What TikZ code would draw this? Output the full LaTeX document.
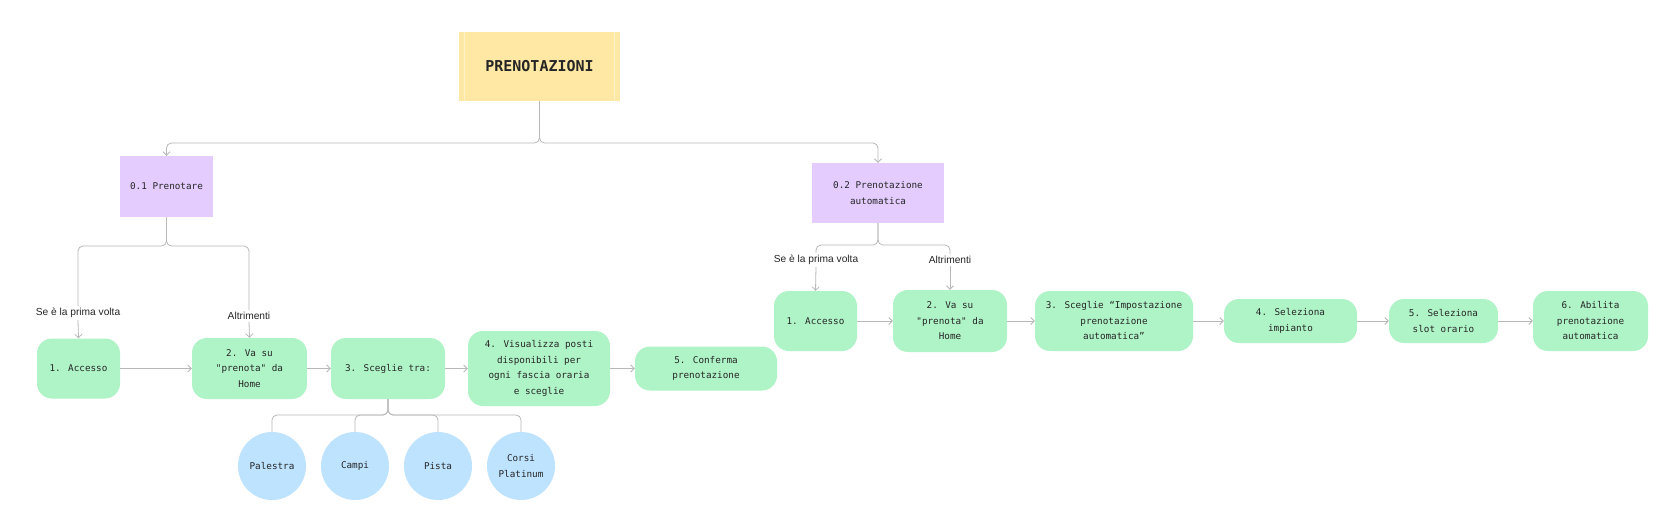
\documentclass[tikz,border=0pt]{standalone}
\usepackage{fontspec}
\usetikzlibrary{arrows.meta}
\newfontfamily\monof{DejaVu Sans Mono}
\newfontfamily\labf{Liberation Sans}
\definecolor{gr}{HTML}{AFF4C6}
\definecolor{pu}{HTML}{E4CCFF}
\definecolor{bl}{HTML}{BDE3FF}
\definecolor{ye}{HTML}{FFE8A3}
\definecolor{yel}{HTML}{FFF1C8}
\definecolor{ln}{HTML}{B8B8B8}
\definecolor{txt}{HTML}{262626}
\begin{document}
\begin{tikzpicture}[x=1pt,y=-1pt,
  box/.style={draw=none, inner sep=0pt, align=center, text=txt,
    font=\monof\fontsize{9.3pt}{15.5pt}\selectfont},
  grn/.style={fill=gr, rounded corners=15pt},
  pur/.style={box, fill=pu},
  circ/.style={box, circle, fill=bl, minimum size=68pt},
  lab/.style={inner sep=2pt, text=txt, font=\labf\fontsize{10.2pt}{12pt}\selectfont},
  conn/.style={draw=ln, line width=0.8pt, rounded corners=5pt},
  arr/.style={conn, -{Straight Barb[length=3.5pt,width=7pt]}}
]
\fill[white] (0,0) rectangle (1680,532);
\useasboundingbox (0,0) rectangle (1680,532);

% title
\node[box, fill=ye, minimum width=161pt, minimum height=69pt,
  font=\monof\bfseries\fontsize{15pt}{18pt}\selectfont] (top) at (539.5,66.5) {PRENOTAZIONI};
\draw[yel, line width=0.8pt] ([xshift=6pt]top.north west) -- ([xshift=6pt]top.south west);
\draw[yel, line width=0.8pt] ([xshift=-6pt]top.north east) -- ([xshift=-6pt]top.south east);

% sections
\node[pur, minimum width=93pt, minimum height=61pt] (p01) at (166.5,186.5) {0.1 Prenotare};
\node[pur, minimum width=132pt, minimum height=60pt] (p02) at (878,193) {0.2 Prenotazione\\automatica};

\coordinate (j0) at (539.5,143);
\draw[arr] (top.south) -- (j0) -| (p01.north);
\draw[arr] (top.south) -- (j0) -| (p02.north);

% left flow
\node[box, grn, minimum width=83pt, minimum height=60pt] (acc1) at (78.5,368.5) {1. Accesso};
\node[box, grn, minimum width=115pt, minimum height=61pt] (va1) at (249.5,368.5) {2. Va su\\"prenota" da\\Home};
\node[box, grn, minimum width=114pt, minimum height=61pt] (s3) at (388,368.5) {3. Sceglie tra:};
\node[box, grn, minimum width=142pt, minimum height=75pt] (vis) at (539,368.5) {4. Visualizza posti\\disponibili per\\ogni fascia oraria\\e sceglie};
\node[box, grn, minimum width=142pt, minimum height=44pt] (conf) at (706,368.5) {5. Conferma\\prenotazione};

\node[lab] (l1a) at (78,313) {Se è la prima volta};
\node[lab] (l1b) at (249,316) {Altrimenti};
\coordinate (j1) at (166.5,246);
\draw[conn] (p01.south) -- (j1) -| (l1a.north);
\draw[conn] (p01.south) -- (j1) -| (l1b.north);
\draw[arr] (l1a.south) -- (acc1.north);
\draw[arr] (l1b.south) -- (va1.north);

\draw[arr] (acc1.east) -- (va1.west);
\draw[arr] (va1.east) -- (s3.west);
\draw[arr] (s3.east) -- (vis.west);
\draw[arr] (vis.east) -- (conf.west);

% circles
\node[circ] (c1) at (272,466) {Palestra};
\node[circ] (c2) at (355,466) {Campi};
\node[circ] (c3) at (438,466) {Pista};
\node[circ] (c4) at (521,466) {Corsi\\Platinum};
\coordinate (j2) at (388,415);
\foreach \c in {c1,c2,c3,c4} \draw[conn] (s3.south) -- (j2) -| (\c.north);

% right flow
\node[box, grn, minimum width=83pt, minimum height=60pt] (acc2) at (815.5,321) {1. Accesso};
\node[box, grn, minimum width=114pt, minimum height=62pt] (va2) at (950,321) {2. Va su\\"prenota" da\\Home};
\node[box, grn, minimum width=158pt, minimum height=60pt] (imp) at (1114,321) {3. Sceglie “Impostazione\\prenotazione\\automatica”};
\node[box, grn, minimum width=133pt, minimum height=44pt] (sel) at (1290.5,321) {4. Seleziona\\impianto};
\node[box, grn, minimum width=109pt, minimum height=44pt] (slot) at (1443.5,321) {5. Seleziona\\slot orario};
\node[box, grn, minimum width=115pt, minimum height=60pt] (abil) at (1590.5,321) {6. Abilita\\prenotazione\\automatica};

\node[lab] (l2a) at (816,260) {Se è la prima volta};
\node[lab] (l2b) at (950,260) {Altrimenti};
\coordinate (j3) at (878,245);
\draw[conn] (p02.south) -- (j3) -| (l2a.north);
\draw[conn] (p02.south) -- (j3) -| (l2b.north);
\draw[arr] (l2a.south) -- (acc2.north);
\draw[arr] (l2b.south) -- (va2.north);

\draw[arr] (acc2.east) -- (va2.west);
\draw[arr] (va2.east) -- (imp.west);
\draw[arr] (imp.east) -- (sel.west);
\draw[arr] (sel.east) -- (slot.west);
\draw[arr] (slot.east) -- (abil.west);
\end{tikzpicture}
\end{document}
